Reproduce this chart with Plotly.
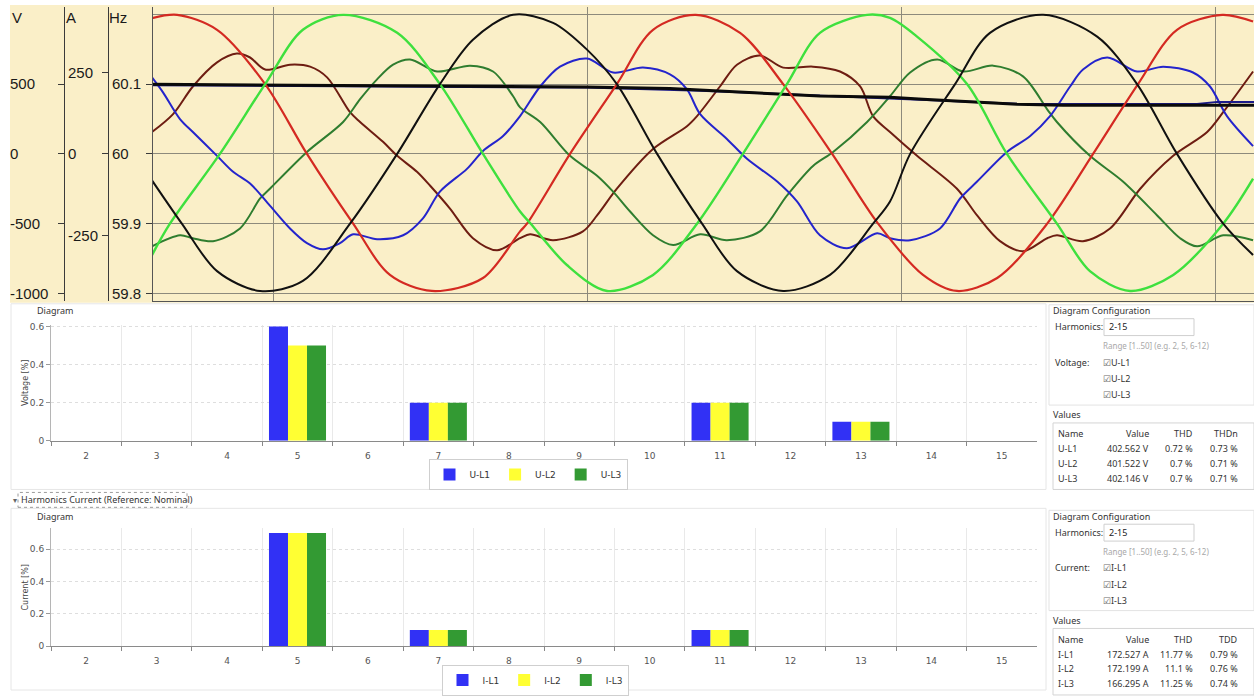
import plotly.graph_objects as go

W, H = 1254, 696

# ---------------- top panel: waveforms (time in ms, 0 = first vertical grid line) ----------------
t_u1 = [-3.85, -3.05, -1.78, -0.25, 1.08, 2.55, 3.72, 5.05, 6.68, 7.86, 8.08, 9.45, 10.94, 12.09,
        13.45, 14.86, 16.23, 17.79, 19.25, 20.68, 21.76, 23.04, 24.63, 26.09, 27.52, 28.76, 30.2, 31.18]
u_l1 = [972, 996, 889, 500, 0, -500, -867, -982, -889, -555, -500, 0, 500, 889,
        996, 867, 500, 0, -500, -867, -982, -889, -500, 0, 500, 889, 996, 948]

t_u2 = [-3.85, -3.28, -1.69, -0.25, 0.95, 2.23, 3.95, 5.31, 6.68, 7.86, 8.20, 9.35, 10.63, 12.09,
        13.49, 14.95, 16.35, 17.40, 18.90, 19.63, 20.49, 22.08, 23.35, 24.94, 25.99, 27.27, 28.64, 30.23, 31.18]
u_l2 = [-725, -500, 0, 500, 889, 996, 867, 500, 0, -413, -500, -796, -982, -867,
        -500, 0, 500, 867, 996, 974, 840, 500, 0, -500, -840, -982, -867, -500, -178]

t_u3 = [-3.85, -2.90, -1.78, -0.41, 0.95, 2.45, 3.95, 5.31, 6.36, 7.64, 8.91, 9.99, 10.94, 12.22,
        13.65, 14.76, 16.23, 17.72, 19.09, 19.63, 20.27, 21.70, 22.81, 24.50, 26.22, 27.49, 28.76, 30.23, 31.18]
u_l3 = [-190, -500, -840, -982, -910, -500, 0, 500, 818, 996, 939, 747, 500, 0,
        -500, -840, -982, -867, -500, -341, 0, 500, 867, 996, 840, 500, 0, -500, -725]

t_i1 = [-3.85, -3.18, -2.55, -1.78, -1.15, -0.73, -0.25, 0.54, 1.18, 1.72, 2.45, 2.77, 3.50, 3.95, 4.58, 5.00,
        5.63, 6.36, 7.13, 7.86, 8.18, 8.91, 9.86, 10.31, 10.94, 12.09, 13.17, 13.49, 14.22, 14.76, 15.49, 16.23,
        17.18, 18.04, 18.68, 19.09, 19.63, 20.49, 21.76, 22.40, 23.13, 23.86, 24.63, 24.94, 25.77, 26.63, 27.59,
        28.64, 29.72, 30.23, 31.18]
i_l1 = [67, 122, 207, 281, 308, 296, 259, 274, 268, 235, 128, 98, 37, -6, -55, -98,
        -168, -259, -296, -259, -247, -265, -238, -189, -107, 15, 85, 116, 207, 274, 302, 265,
        268, 253, 207, 116, 67, -6, -107, -189, -268, -299, -259, -250, -268, -229, -107,
        -6, 67, 128, 253]

t_i2 = [-3.85, -2.96, -2.55, -1.91, -1.05, -0.41, -0.10, 1.08, 2.23, 2.77, 3.31, 3.82, 4.36, 5.22, 6.27, 7.00,
        7.64, 7.86, 8.50, 9.45, 10.31, 10.82, 11.36, 12.09, 12.73, 13.59, 14.44, 15.49, 16.35, 17.18, 17.82,
        18.90, 19.63, 20.27, 21.13, 21.95, 22.91, 23.86, 24.63, 24.94, 25.99, 27.04, 28.13, 28.86, 29.40, 30.23, 31.18]
i_l2 = [-284, -250, -259, -268, -229, -137, -107, 6, 98, 168, 229, 274, 290, 253, 271, 253,
        177, 143, 98, -6, -67, -116, -177, -250, -280, -247, -265, -238, -128, -37, 6,
        98, 177, 250, 290, 253, 271, 238, 137, 98, -6, -85, -189, -259, -284, -250, -265]

t_i3 = [-3.85, -3.50, -2.96, -2.55, -1.78, -1.27, -0.73, -0.10, 0.54, 1.08, 1.59, 2.13, 2.55, 3.31, 4.14, 4.77,
        5.31, 6.17, 6.68, 7.32, 7.86, 8.50, 9.13, 9.99, 10.82, 11.77, 12.63, 13.17, 13.59, 14.44, 15.08, 16.04,
        16.67, 17.40, 18.26, 19.22, 19.63, 20.27, 21.22, 21.86, 22.40, 23.35, 24.09, 24.72, 25.36, 25.77, 26.54,
        27.49, 28.32, 29.27, 29.81, 30.35, 31.18]
i_l3 = [235, 189, 107, 67, -6, -55, -91, -159, -229, -274, -293, -274, -247, -262, -250, -198,
        -116, -46, 9, 55, 116, 207, 268, 293, 250, 265, 244, 198, 122, 46, -15, -85,
        -146, -250, -290, -244, -259, -265, -229, -137, -85, 6, 55, 116, 207, 259, 296,
        253, 268, 250, 207, 116, 24]

t_f1 = [-3.85, 7.86, 9.99, 12.63, 15.27, 17.40, 19.63, 20.68, 23.67, 25.14, 31.21]
f_1 = [60.0996, 60.0963, 60.0957, 60.0935, 60.0878, 60.0829, 60.0811, 60.0782, 60.0711, 60.0697, 60.0697]
t_f2 = [-3.85, 9.99, 13.59, 17.40, 20.68, 23.67, 29.40, 30.04, 31.21]
f_2 = [60.0985, 60.0950, 60.0905, 60.0835, 60.0775, 60.0720, 60.0715, 60.0745, 60.0745]

v_ticks = [500, 0, -500, -1000]
a_ticks = [250, 0, -250]
hz_ticks = [60.1, 60.0, 59.9, 59.8]
hz_ticktext = ["60.1", "60", "59.9", "59.8"]

# ---------------- harmonics ----------------
harmonics = ["2", "3", "4", "5", "6", "7", "8", "9", "10", "11", "12", "13", "14", "15"]
volt_u1 = [0, 0, 0, 0.6, 0, 0.2, 0, 0, 0, 0.2, 0, 0.1, 0, 0]
volt_u2 = [0, 0, 0, 0.5, 0, 0.2, 0, 0, 0, 0.2, 0, 0.1, 0, 0]
volt_u3 = [0, 0, 0, 0.5, 0, 0.2, 0, 0, 0, 0.2, 0, 0.1, 0, 0]
curr_i1 = [0, 0, 0, 0.7, 0, 0.1, 0, 0, 0, 0.1, 0, 0, 0, 0]
curr_i2 = [0, 0, 0, 0.7, 0, 0.1, 0, 0, 0, 0.1, 0, 0, 0, 0]
curr_i3 = [0, 0, 0, 0.7, 0, 0.1, 0, 0, 0, 0.1, 0, 0, 0, 0]
pct_ticks = [0, 0.2, 0.4, 0.6]

volt_names = ["U-L1", "U-L2", "U-L3"]
volt_values = ["402.562 V", "401.522 V", "402.146 V"]
volt_thd = ["0.72 %", "0.7 %", "0.7 %"]
volt_thdn = ["0.73 %", "0.71 %", "0.71 %"]
curr_names = ["I-L1", "I-L2", "I-L3"]
curr_values = ["172.527 A", "172.199 A", "166.295 A"]
curr_thd = ["11.77 %", "11.1 %", "11.25 %"]
curr_tdd = ["0.79 %", "0.76 %", "0.74 %"]

# ---------------- helpers ----------------
def X(p):
    return p / W


def Y(p):
    return 1 - p / H


V_RANGE = [-1052.6, 1052.6]
A_RANGE = [-451.3, 451.3]
HZ_RANGE = [59.7895, 60.2105]
T_RANGE = [-3.85, 31.21]
GRID = "#8d8a7c"
AXF = dict(family="Liberation Sans, Arial, sans-serif", size=15, color="#1a1a1a")
UI = "Noto Sans, Open Sans, sans-serif"
SMALL = "DejaVu Sans, Verdana, sans-serif"
BLUE, YELLOW, GREEN = "#3131f5", "#ffff33", "#339a33"

fig = go.Figure()


def wave(x, y, yaxis, color, width, name):
    fig.add_trace(go.Scatter(x=x, y=y, xaxis="x", yaxis=yaxis, mode="lines", name=name,
                             line=dict(color=color, width=width, shape="spline", smoothing=0.9),
                             showlegend=False, hoverinfo="skip"))


# voltages on the V axis (y4, labelled), currents on the A axis (y2), frequency on the Hz axis (y3)
wave(t_u1, u_l1, "y4", "#d42a22", 2.2, "U-L1")
wave(t_u2, u_l2, "y4", "#3ee03e", 2.4, "U-L2")
wave(t_u3, u_l3, "y4", "#111111", 2.0, "U-L3")
wave(t_i1, i_l1, "y2", "#6e1d12", 2.0, "I-L1")
wave(t_i2, i_l2, "y2", "#2f7d2f", 2.0, "I-L2")
wave(t_i3, i_l3, "y2", "#2424cc", 2.0, "I-L3")
fig.add_trace(go.Scatter(x=t_f2, y=f_2, xaxis="x", yaxis="y3", mode="lines", name="f2",
                         line=dict(color="#1a1a8a", width=2), showlegend=False, hoverinfo="skip"))
fig.add_trace(go.Scatter(x=t_f1, y=f_1, xaxis="x", yaxis="y3", mode="lines", name="f1",
                         line=dict(color="#0a0a0a", width=3), showlegend=False, hoverinfo="skip"))
# empty placeholders so the tick-only axes belong to a subplot
for ya in ["y", "y5", "y6", "y7"]:
    fig.add_trace(go.Scatter(x=[None], y=[None], xaxis="x", yaxis=ya, mode="lines",
                             showlegend=False, hoverinfo="skip"))

for vals, name, col in [(volt_u1, "U-L1", BLUE), (volt_u2, "U-L2", YELLOW), (volt_u3, "U-L3", GREEN)]:
    fig.add_trace(go.Bar(x=harmonics, y=vals, name=name, marker=dict(color=col, line=dict(width=0)),
                         xaxis="x2", yaxis="y8", legend="legend", hoverinfo="skip"))
for vals, name, col in [(curr_i1, "I-L1", BLUE), (curr_i2, "I-L2", YELLOW), (curr_i3, "I-L3", GREEN)]:
    fig.add_trace(go.Bar(x=harmonics, y=vals, name=name, marker=dict(color=col, line=dict(width=0)),
                         xaxis="x3", yaxis="y9", legend="legend2", hoverinfo="skip"))

top_dom = [Y(303), Y(7)]


def label_axis(pos, rng, tv, tt, line):
    # labels to the right of the axis position (left aligned), like the reference
    return dict(overlaying="y", anchor="free", position=X(pos), side="right", range=rng,
                tickvals=tv, ticktext=tt, ticks="", ticklabeloverflow="allow",
                showline=line, linecolor="#3a3a3a", linewidth=1, showgrid=False, zeroline=False,
                tickfont=AXF, fixedrange=True)


def tick_axis(pos, rng, tv, line):
    return dict(overlaying="y", anchor="free", position=X(pos), side="left", range=rng,
                tickvals=tv, ticks="outside", ticklen=6, tickcolor="#3a3a3a", tickwidth=1,
                showticklabels=False, showline=line, linecolor="#555", linewidth=1,
                showgrid=False, zeroline=False, fixedrange=True)


bar_x = dict(domain=[X(51), X(1037)], type="category", tickson="boundaries", ticks="outside",
             ticklen=4, tickcolor="#888", showline=True, linecolor="#8a8a8a", linewidth=1,
             showgrid=True, gridcolor="#e9e9e9", gridwidth=1, zeroline=False,
             tickfont=dict(family=SMALL, size=9, color="#555"), ticklabelstandoff=6, fixedrange=True)


def bar_y(dom, rng, title, anchor):
    return dict(domain=dom, range=rng, anchor=anchor, tickvals=pct_ticks,
                ticktext=["0", "0.2", "0.4", "0.6"], ticks="outside", ticklen=4, tickcolor="#999",
                showline=True, linecolor="#b5b5b5", linewidth=1, showgrid=True, gridcolor="#dedede",
                griddash="dot", zeroline=False, tickfont=dict(family=SMALL, size=9, color="#555"),
                title=dict(text=title, font=dict(family=SMALL, size=8, color="#444"), standoff=0),
                fixedrange=True)


xa2 = dict(bar_x, anchor="y8")
xa3 = dict(bar_x, anchor="y9")

legend_common = dict(orientation="h", xanchor="center", yanchor="middle", bgcolor="white",
                     bordercolor="#cfcfcf", borderwidth=1, itemwidth=30,
                     font=dict(family=SMALL, size=9, color="#333"), itemclick=False, itemdoubleclick=False)

shapes = [
    dict(type="rect", xref="paper", yref="paper", x0=X(10), x1=1, y0=Y(305), y1=Y(5),
         fillcolor="#faefc8", line=dict(width=0), layer="below"),
    dict(type="rect", xref="paper", yref="paper", x0=X(11), x1=X(1046), y0=Y(493), y1=Y(306),
         line=dict(color="#e6e6e6", width=1), layer="below"),
    dict(type="rect", xref="paper", yref="paper", x0=X(11), x1=X(1046), y0=Y(695), y1=Y(512),
         line=dict(color="#e6e6e6", width=1), layer="below"),
    dict(type="rect", xref="paper", yref="paper", x0=X(18), x1=X(187), y0=Y(511), y1=Y(496),
         line=dict(color="#9a9a9a", width=1, dash="dot"), layer="below"),
]

ann = []


def txt(x, y, s, size=9, color="#333", anchor="left", family=UI):
    ann.append(dict(x=X(x), y=Y(y), xref="paper", yref="paper", text=s, showarrow=False,
                    xanchor=anchor, yanchor="middle", font=dict(size=size, color=color, family=family)))


def box(x0, y0, x1, y1, color):
    shapes.append(dict(type="rect", xref="paper", yref="paper", x0=X(x0), x1=X(x1), y0=Y(y1), y1=Y(y0),
                       line=dict(color=color, width=1), layer="below"))


# top titles
txt(10, 18, "V", 15, "#1a1a1a", family=AXF["family"])
txt(64, 18, "A", 15, "#1a1a1a", family=AXF["family"])
txt(107, 18, "Hz", 15, "#1a1a1a", family=AXF["family"])

# section labels
txt(35, 313, "Diagram", 9)
txt(11, 503, "▾", 8, "#666")
txt(19, 503, "Harmonics Current (Reference: Nominal)", 9)
txt(35, 520, "Diagram", 9)


def right_panel(top, kind, names, values, c3, c4, h3, h4):
    box(1049, top - 6, 1254, top + 95, "#e3e3e3")
    txt(1051, top, "Diagram Configuration", 9)
    txt(1053, top + 16, "Harmonics:", 9)
    box(1104, top + 8, 1194, top + 25, "#cfcfcf")
    txt(1107, top + 16, "2-15", 9, "#222")
    txt(1101, top + 35, "Range [1..50] (e.g. 2, 5, 6-12)", 8, "#a8a8a8")
    txt(1053, top + 52, kind, 9)
    for k, n in enumerate(names):
        txt(1101, top + 52 + 16.3 * k, "<span style='color:#6a6a6a'>☑</span>" + n, 9, "#333")
    txt(1051, top + 105, "Values", 9)
    box(1053, top + 113, 1254, top + 180, "#d4d4d4")
    hy = top + 124
    txt(1056, hy, "Name", 9)
    txt(1151, hy, "Value", 9, anchor="right")
    txt(1195, hy, h3, 9, anchor="right")
    txt(1240, hy, h4, 9, anchor="right")
    for k in range(3):
        ry = hy + 15 + 14.8 * k
        txt(1056, ry, names[k], 9)
        txt(1151, ry, values[k], 9, anchor="right")
        txt(1195, ry, c3[k], 9, anchor="right")
        txt(1240, ry, c4[k], 9, anchor="right")


right_panel(313, "Voltage:", volt_names, volt_values, volt_thd, volt_thdn, "THD", "THDn")
right_panel(520, "Current:", curr_names, curr_values, curr_thd, curr_tdd, "THD", "TDD")

fig.update_layout(
    width=W, height=H, template="none", autosize=False,
    margin=dict(l=0, r=0, t=0, b=0, pad=0),
    paper_bgcolor="white", plot_bgcolor="rgba(0,0,0,0)",
    barmode="group", bargap=0.19, bargroupgap=0, hovermode=False,
    xaxis=dict(domain=[X(152), 1], range=T_RANGE, anchor="y", showgrid=True, gridcolor=GRID, gridwidth=1,
               tick0=0, dtick=10, showticklabels=False, ticks="", zeroline=False,
               showline=True, linecolor="#555", linewidth=1, fixedrange=True),
    yaxis=dict(domain=top_dom, range=V_RANGE, anchor="x", showgrid=True, gridcolor=GRID, gridwidth=1,
               tickvals=[-1000, -500, 0, 500, 1000], showticklabels=False, ticks="", zeroline=False,
               showline=False, fixedrange=True),
    yaxis2=label_axis(64, A_RANGE, a_ticks, [str(v) for v in a_ticks], True),
    yaxis3=label_axis(108, HZ_RANGE, hz_ticks, hz_ticktext, True),
    yaxis4=label_axis(9, V_RANGE, v_ticks, [str(v) for v in v_ticks], False),
    yaxis5=tick_axis(64, V_RANGE, v_ticks, False),
    yaxis6=tick_axis(108, A_RANGE, a_ticks, False),
    yaxis7=tick_axis(152, HZ_RANGE, hz_ticks, True),
    xaxis2=xa2,
    yaxis8=bar_y([Y(444), Y(327)], [0, 0.61], "Voltage [%]", "x2"),
    xaxis3=xa3,
    yaxis9=bar_y([Y(651), Y(532)], [0, 0.729], "Current [%]", "x3"),
    legend=dict(legend_common, x=X(528), y=Y(478)),
    legend2=dict(legend_common, x=X(535), y=Y(685)),
    shapes=shapes,
    annotations=ann,
)

fig.write_html("out.html", config={"displayModeBar": False},
               post_script="document.body.style.margin='0px';document.body.style.padding='0px';")
